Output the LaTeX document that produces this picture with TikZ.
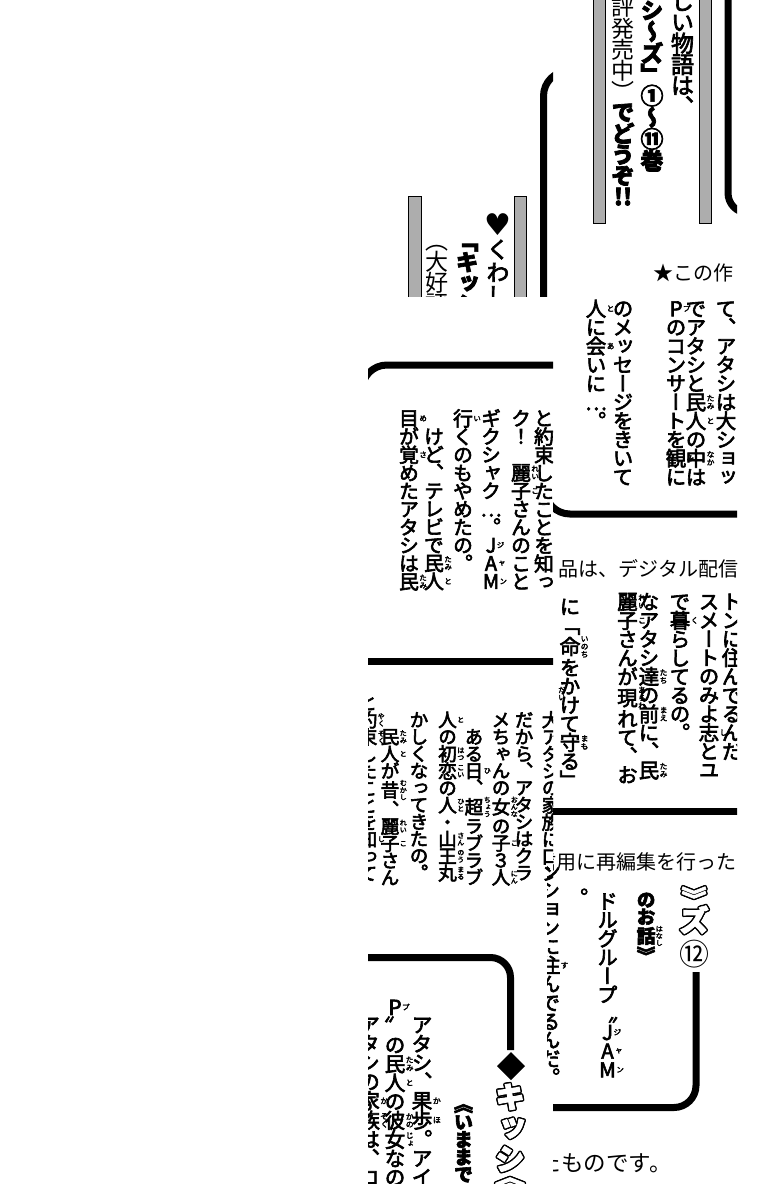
\documentclass[tikz,border=0pt]{standalone}
\usepackage{fontspec}
\newfontfamily\jpf[RawFeature=+vert, FakeBold=3]{Noto Sans CJK JP}
\newfontfamily\jpl[RawFeature=+vert]{Noto Sans CJK JP}
\newfontfamily\jph{Noto Sans CJK JP}
\newfontfamily\djv{DejaVu Sans}
\makeatletter
\newdimen\vc@p
\def\vc@end{vc@end@marker}
\newcommand\vsp{\relax}
\newcommand\vcell[1]{\hbox to 1em{\vrule height \dimexpr0.5\vc@p+0.38em\relax depth \dimexpr0.5\vc@p-0.38em\relax width 0pt\hss#1\hss}}
\def\vc@loop#1{\ifx\vc@end#1\else\vcell{#1}\expandafter\vc@loop\fi}
\newcommand\vcol[2][1em]{\vbox{\offinterlineskip\vc@p=#1\relax\vc@loop#2\vc@end}}
\newcommand\rb[2]{#1\rlap{\kern0.02em\rb@stack{#2}}}
\def\rb@stack#1{%
  \dimen@=\f@size pt\dimen@=0.38\dimen@\edef\rb@s{\the\dimen@}%
  \setbox0\vbox{\mdseries\fontsize{\rb@s}{\rb@s}\selectfont\offinterlineskip\vc@p=1em\relax\vc@loop#1\vc@end}%
  \dimen@=\dimexpr0.38em-0.5\ht0+0.5\dp0\relax
  \raise\dimen@\box0}
\makeatother
\newcommand\jcol[6][]{\node[anchor=north,inner sep=0pt] at (#2,#3) {\jpf#1\fontsize{#4}{#4}\selectfont\vcol[#5pt]{#6}};}
\newcommand\ojcol[5]{%
  \foreach \a in {0,30,...,330}{\node[anchor=north,inner sep=0pt,shift={(\a:1.4)}] at (#1,#2) {\jpf\bfseries\fontsize{#3}{#3}\selectfont\vcol[#4pt]{#5}};}
  \node[anchor=north,inner sep=0pt,text=white] at (#1,#2) {\jpf\bfseries\fontsize{#3}{#3}\selectfont\vcol[#4pt]{#5}};}
\newcommand\hjtext[4]{\node[anchor=base west,inner sep=0pt] at (#1,#2) {\jph\fontsize{#3}{#3}\selectfont #4};}
\tikzset{
  graybar/.style={fill=black!32, draw=black, line width=0.8pt},
  frame/.style={line width=7pt}
}
\begin{document}
\begin{tikzpicture}[x=1pt,y=-1pt]
\useasboundingbox (0,0) rectangle (760,1200);
\fill[white] (0,0) rectangle (760,1200);

% ---------- top left piece ----------
\begin{scope}
\clip (368,0) rectangle (553,296);
\draw[graybar] (408,196) rectangle (421,310);
\draw[graybar] (514,196) rectangle (526,310);
\draw[frame, rounded corners=25pt] (543.5,330) -- (543.5,71) -- (700,71);
\jcol{498}{213}{23}{23}{{\djv\fontsize{30}{30}\selectfont ♥}くわし}
\jcol[\bfseries]{467}{230}{23}{21}{「キッシ}
\jcol[\jpl]{437}{230}{23}{21}{（大好評}
\end{scope}

% ---------- top right piece ----------
\begin{scope}
\clip (553,0) rectangle (737,296);
\draw[graybar] (593,-10) rectangle (605,223);
\draw[graybar] (699,-10) rectangle (711,223);
\draw[frame, rounded corners=20pt] (728,-10) -- (728,213) -- (800,213);
\jcol{682.5}{-9.5}{23}{21}{しい物語は、}
\jcol[\bfseries]{652}{-0.5}{23}{21}{シ～ズ」①～⑪巻}
\jcol[\jpl]{623}{-3.5}{23}{21}{評発売中）}
\jcol[\bfseries]{623}{101.5}{23}{21}{でどうぞ{!!}}
\hjtext{653}{280.6}{20}{★この作}
\end{scope}

% ---------- right strip ----------
\begin{scope}
\clip (553,296) rectangle (737,1200);
% block 1
\jcol{726}{299}{20.5}{18.7}{て、アタシは大ショッ}
\jcol{696}{299}{20.5}{18.7}{でアタシと{\rb{民}{たみ}}{\rb{人}{と}}の{\rb{中}{なか}}は}
\jcol{676}{299}{20.5}{18.7}{{\rb{P}{プ}}のコンサートを{\rb{観}{み}}に}
\jcol{623}{299}{20.5}{18.7}{のメッセージをきいて}
\jcol{596}{299}{20.5}{18.7}{{\rb{人}{と}}に{\rb{会}{あ}}いに…。}
\draw[frame, rounded corners=25pt] (545,300) -- (545,514) -- (760,514);
\hjtext{558.5}{576}{20}{品は、デジタル配信}
% block 2
\jcol{732}{592}{20.5}{18.7}{トンに{\rb{住}{す}}んでるんだ}
\jcol{709}{592}{20.5}{18.7}{スメートのみよ{\rb{志}{し}}とユ}
\jcol{680}{592}{20.5}{18.7}{で{\rb{暮}{く}}らしてるの。}
\jcol{649}{592}{20.5}{18.7}{なアタシ{\rb{達}{たち}}の{\rb{前}{まえ}}に、{\rb{民}{たみ}}}
\jcol{627.5}{592}{20.5}{18.7}{{\rb{麗}{れい}}{\rb{子}{こ}}さんが{\rb{現}{あらわ}}れて、お}
\jcol{570}{597}{20.5}{18.7}{に「{\rb{命}{いのち}}をかけて{\rb{守}{まも}}る」}
\jcol{562}{686}{7.5}{7.5}{だい}
\draw[frame] (540,811.5) -- (760,811.5);
\hjtext{536}{869.6}{20}{信用に再編集を行った}
% block 3
\ojcol{694}{886}{25}{25}{》}
\ojcol{694}{905}{30}{30}{ズ}
\node[inner sep=0pt] at (694,954) {\jph\fontsize{30}{30}\selectfont ⑫};
\draw[frame, rounded corners=22pt] (696,972) -- (696,1107.5) -- (540,1107.5);
\jcol[\bfseries]{646}{891}{18.7}{17}{のお{\rb{話}{はなし}}》}
\jcol{607.5}{891.5}{20.5}{18.7}{ドルグループ〝{\rb{J}{ジ}}{\rb{A}{ャ}}{\rb{M}{ン}}}
\jcol{578}{888}{20.5}{18.7}{。}
\hjtext{538.75}{1171.5}{22.5}{たものです。}
\end{scope}
\begin{scope}
\clip (547,850) rectangle (600,1100);
\jcol{550}{862}{20.5}{18.7}{ンションに{\rb{住}{す}}んでるんだ。}
\end{scope}

% ---------- left strip ----------
\begin{scope}
\clip (368,296) rectangle (553,1183);
\draw[frame, rounded corners=25pt] (600,365) -- (362,365) -- (362,700);
\draw[frame] (360,661) -- (560,661);
\draw[frame, rounded corners=20pt] (360,957.5) -- (510.5,957.5) -- (510.5,1050);
\fill (511,1052) -- (525,1066) -- (511,1080) -- (497,1066) -- cycle;
\end{scope}
% block 1
\begin{scope}
\clip (368,296) rectangle (553,655);
\jcol{544}{409}{19.9}{18.1}{と{\rb{約}{やく}}{\rb{束}{そく}}したことを{\rb{知}{し}}っ}
\jcol{521}{409}{19.9}{18.1}{ク！\vsp{\rb{麗}{れい}}{\rb{子}{こ}}さんのこと}
\jcol{491}{409}{19.9}{18.1}{ギクシャク…。{\rb{J}{ジ}}{\rb{A}{ャ}}{\rb{M}{ン}}}
\jcol{463}{409}{19.9}{18.1}{{\rb{行}{い}}くのもやめたの。}
\jcol{434}{409}{19.9}{18.1}{\vsp けど、テレビで{\rb{民}{たみ}}{\rb{人}{と}}}
\jcol{409}{409}{19.9}{18.1}{{\rb{目}{め}}が{\rb{覚}{さ}}めたアタシは{\rb{民}{たみ}}}
\end{scope}
% block 2
\begin{scope}
\clip (368,665) rectangle (553,886);
\jcol{551}{711}{18.7}{17}{{\rb{大}{だい}}アタシの{\rb{家}{か}}{\rb{族}{ぞく}}に口ン}
\jcol{524}{711}{18.7}{17}{だから、アタシはクラ}
\jcol{501}{711}{18.7}{17}{メちゃんの{\rb{女}{おんな}}の{\rb{子}{こ}}３{\rb{人}{にん}}}
\jcol{474}{711}{18.7}{17}{\vsp ある{\rb{日}{ひ}}、{\rb{超}{ちょう}}ラブラブ}
\jcol{447.5}{711}{18.7}{17}{{\rb{人}{と}}の{\rb{初}{はつ}}{\rb{恋}{こい}}の{\rb{人}{ひと}}・{\rb{山}{さん}}{\rb{王}{のう}}{\rb{丸}{まる}}}
\jcol{419}{711}{18.7}{17}{かしくなってきたの。}
\jcol{390}{711}{18.7}{17}{\vsp{\rb{民}{たみ}}{\rb{人}{と}}が{\rb{昔}{むかし}}、{\rb{麗}{れい}}{\rb{子}{こ}}さん}
\jcol{368}{694}{18.7}{17}{と{\rb{約}{やく}}{\rb{束}{そく}}したことを{\rb{知}{し}}って}
\end{scope}
% block 3
\begin{scope}
\clip (368,886) rectangle (543,1183);
\ojcol{510}{1081}{30}{31}{キッシ}
\ojcol{510}{1162}{30}{30}{《}
\jcol[\bfseries]{463.5}{1095}{19.2}{17.5}{《いままで}
\jcol{422}{1015}{20.9}{19}{アタシ、{\rb{果}{か}}{\rb{歩}{ほ}}。アイ}
\jcol{395}{997.5}{20.7}{18.8}{{\rb{P}{プ}}〟の{\rb{民}{たみ}}{\rb{人}{と}}の{\rb{彼}{かの}}{\rb{女}{じょ}}なの}
\jcol{369.5}{1015}{20.9}{19}{アタシの{\rb{家}{か}}{\rb{族}{ぞく}}は、コ}
\end{scope}
\end{tikzpicture}
\end{document}
